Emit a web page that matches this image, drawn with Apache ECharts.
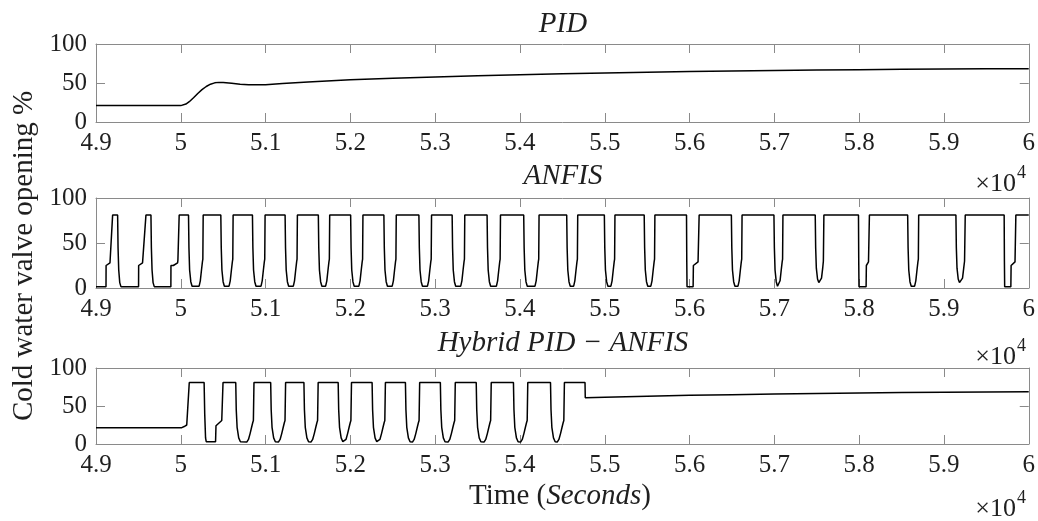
<!DOCTYPE html>
<html>
<head>
<meta charset="utf-8">
<script src="https://cdn.jsdelivr.net/npm/echarts@6/dist/echarts.min.js"></script>
<style>
html, body { margin: 0; padding: 0; background: #fff; }
#chart { width: 1038px; height: 521px; }
</style>
</head>
<body>
<div id="chart"></div>
<script>
// Time axis ticks (seconds) and valve-opening ticks (%)
const timeTicks = [49000, 50000, 51000, 52000, 53000, 54000, 55000, 56000, 57000, 58000, 59000, 60000];
const openingTicks = [0, 50, 100];
const panelTitles = ['PID', 'ANFIS', 'Hybrid PID \u2212 ANFIS'];
const yAxisTitle = 'Cold water valve opening %';
const timeScaleNote = ['\u00d710', '4'];

// PID controller valve opening [time s, opening %]
const pidOpening = [
  [49000, 21], [50000, 21], [50020, 21.3], [50060, 23], [50100, 26], [50150, 31], [50200, 36.5],
  [50250, 41.5], [50300, 45.5], [50350, 48.5], [50400, 50.2], [50450, 50.8], [50500, 50.7],
  [50600, 49.6], [50700, 48.5], [50800, 47.9], [50900, 47.7], [51000, 47.9], [51200, 49.3],
  [51500, 51.3], [52000, 54.3], [52500, 56.2], [53000, 57.8], [53500, 59.3], [54000, 60.6],
  [54500, 61.8], [55000, 62.8], [55500, 63.7], [56000, 64.6], [56500, 65.3], [57000, 66],
  [57500, 66.6], [58000, 67.1], [58500, 67.5], [59000, 67.9], [59500, 68.2], [60000, 68.4]
];

// ANFIS controller valve opening [time s, opening %]
const anfisOpening = [
  [49000, 1.5], [49118, 1.5], [49119, 25], [49165, 28], [49168, 30], [49196, 81], [49255, 81],
  [49260, 45], [49268, 20], [49280, 6], [49294, 1.5],
  [49502, 1.5], [49503, 25], [49549, 28], [49552, 30], [49589, 81], [49648, 81],
  [49653, 45], [49661, 20], [49673, 6], [49687, 1.5],
  [49883, 1.5], [49884, 25], [49900, 27], [49912, 25], [49962, 28], [49966, 31], [49981, 81], [50091, 81],
  [50096, 45], [50104, 20], [50118, 7], [50133, 2], [50216, 2], [50230, 8], [50244, 20], [50255, 29], [50260, 32], [50264, 81],
  [50472, 81], [50477, 45], [50485, 20], [50499, 7], [50514, 2], [50569, 2], [50583, 8], [50597, 20], [50608, 29], [50613, 32], [50617, 81],
  [50845, 81], [50850, 45], [50858, 20], [50872, 7], [50887, 2], [50946, 2], [50960, 8], [50974, 20], [50985, 29], [50990, 32], [50994, 81],
  [51230, 81], [51235, 45], [51243, 20], [51257, 7], [51272, 2], [51327, 2], [51341, 8], [51355, 20], [51366, 29], [51371, 32], [51375, 81],
  [51622, 81], [51627, 45], [51635, 20], [51649, 7], [51664, 2], [51708, 2], [51722, 8], [51736, 20], [51747, 29], [51752, 32], [51756, 81],
  [52003, 81], [52008, 45], [52016, 20], [52030, 7], [52045, 2], [52100, 2], [52114, 8], [52128, 20], [52139, 29], [52144, 32], [52148, 81],
  [52395, 81], [52400, 45], [52408, 20], [52422, 7], [52437, 2], [52493, 2], [52507, 8], [52521, 20], [52532, 29], [52537, 32], [52541, 81],
  [52808, 81], [52813, 45], [52821, 20], [52835, 7], [52850, 2], [52909, 2], [52923, 8], [52937, 20], [52948, 29], [52953, 32], [52957, 81],
  [53200, 81], [53205, 45], [53213, 20], [53227, 7], [53242, 2], [53301, 2], [53315, 8], [53329, 20], [53340, 29], [53345, 32], [53349, 81],
  [53612, 81], [53617, 45], [53625, 20], [53639, 7], [53654, 2], [53722, 2], [53736, 8], [53750, 20], [53761, 29], [53766, 32], [53770, 81],
  [54044, 81], [54049, 45], [54057, 20], [54071, 7], [54086, 2], [54177, 2], [54191, 8], [54205, 20], [54216, 29], [54221, 32], [54225, 81],
  [54551, 81], [54556, 45], [54564, 20], [54578, 7], [54593, 2], [54633, 2], [54647, 8], [54661, 20], [54672, 29], [54677, 32], [54681, 81],
  [54995, 81], [55000, 45], [55008, 20], [55022, 7], [55037, 2], [55072, 2], [55086, 8], [55100, 20], [55111, 29], [55116, 32], [55120, 81],
  [55465, 81], [55470, 45], [55478, 20], [55492, 7], [55507, 2], [55543, 2], [55557, 8], [55571, 20], [55582, 29], [55587, 32], [55591, 81],
  [55964, 81], [55967, 30], [55970, 1.5], [56042, 1.5], [56045, 25], [56100, 29], [56104, 31], [56113, 81],
  [56493, 81], [56498, 45], [56506, 20], [56520, 7], [56535, 2], [56571, 2], [56585, 8], [56599, 20], [56610, 29], [56615, 32], [56619, 81],
  [56995, 81], [57000, 45], [57008, 20], [57022, 7], [57037, 2], [57053, 2], [57067, 8], [57081, 20], [57092, 29], [57097, 32], [57101, 81],
  [57482, 81], [57487, 45], [57495, 22], [57509, 10], [57524, 6], [57533, 5.5], [57542, 6], [57556, 11], [57570, 22], [57578, 30], [57581, 32], [57584, 81],
  [57992, 81], [57995, 30], [57998, 1.5], [58082, 1.5], [58085, 25], [58110, 29], [58114, 31], [58121, 81],
  [58572, 81], [58577, 45], [58585, 20], [58599, 7], [58614, 2], [58654, 2], [58668, 8], [58682, 20], [58693, 29], [58698, 32], [58702, 81],
  [59141, 81], [59146, 45], [59154, 22], [59168, 10], [59183, 6], [59196, 5.5], [59205, 6], [59219, 11], [59233, 22], [59243, 30], [59247, 32], [59251, 81],
  [59710, 81], [59713, 30], [59716, 1.5], [59789, 1.5], [59792, 25], [59838, 29], [59842, 31], [59848, 81], [60000, 81]
];

// Hybrid PID-ANFIS controller valve opening [time s, opening %]
const hybridOpening = [
  [49000, 21.5], [50012, 21.5], [50040, 23], [50070, 25], [50092, 27], [50100, 81], [50275, 81],
  [50282, 40], [50292, 8], [50300, 3], [50410, 3], [50415, 24], [50483, 31], [50498, 81],
  [50648, 81], [50654, 45], [50664, 22], [50683, 8], [50703, 3], [50718, 2.5], [50778, 2.5], [50798, 6], [50818, 14], [50835, 22], [50848, 28], [50856, 31], [50863, 81],
  [51060, 81], [51066, 45], [51076, 22], [51095, 8], [51115, 3], [51130, 2.5], [51151, 2.5], [51171, 6], [51191, 14], [51208, 22], [51221, 28], [51229, 31], [51236, 81],
  [51452, 81], [51458, 45], [51468, 22], [51487, 8], [51507, 3], [51522, 2.5], [51535, 2.5], [51555, 6], [51575, 14], [51592, 22], [51605, 28], [51613, 31], [51620, 81],
  [51856, 81], [51862, 45], [51872, 22], [51891, 8], [51911, 3], [51926, 2.5], [51928, 2.5], [51948, 6], [51968, 14], [51985, 22], [51998, 28], [52006, 31], [52013, 81],
  [52256, 81], [52262, 45], [52272, 22], [52291, 8], [52311, 3], [52326, 2.5], [52328, 2.5], [52348, 6], [52368, 14], [52385, 22], [52398, 28], [52406, 31], [52413, 81],
  [52649, 81], [52655, 45], [52665, 22], [52684, 8], [52704, 3], [52719, 2.5], [52732, 2.5], [52752, 6], [52772, 14], [52789, 22], [52802, 28], [52810, 31], [52817, 81],
  [53061, 81], [53067, 45], [53077, 22], [53096, 8], [53116, 3], [53131, 2.5], [53152, 2.5], [53172, 6], [53192, 14], [53209, 22], [53222, 28], [53230, 31], [53237, 81],
  [53484, 81], [53490, 45], [53500, 22], [53519, 8], [53539, 3], [53554, 2.5], [53576, 2.5], [53596, 6], [53616, 14], [53633, 22], [53646, 28], [53654, 31], [53661, 81],
  [53923, 81], [53929, 45], [53939, 22], [53958, 8], [53978, 3], [53993, 2.5], [54007, 2.5], [54027, 6], [54047, 14], [54064, 22], [54077, 28], [54085, 31], [54092, 81],
  [54360, 81], [54366, 45], [54376, 22], [54395, 8], [54415, 3], [54430, 2.5], [54439, 2.5], [54459, 6], [54479, 14], [54496, 22], [54509, 28], [54517, 31], [54524, 81],
  [54767, 81], [54770, 61], [55000, 61.6], [55500, 62.9], [56000, 64], [56500, 64.9], [57000, 65.7],
  [57500, 66.4], [58000, 67], [58500, 67.6], [59000, 68.1], [59500, 68.5], [60000, 68.9]
];

const series3 = [pidOpening, anfisOpening, hybridOpening];

const FONT = '"Liberation Serif", "Times New Roman", serif';
const FRAME = '#8a8a8a';
const INK = '#1f1f1f';

const panels = [
  { top: 44, height: 78 },
  { top: 198, height: 90 },
  { top: 368, height: 76 }
];

const tMin = timeTicks[0], tMax = timeTicks[timeTicks.length - 1], tStep = timeTicks[1] - timeTicks[0];
const oMin = openingTicks[0], oMax = openingTicks[openingTicks.length - 1], oStep = openingTicks[1] - openingTicks[0];

const grid = [], xAxis = [], yAxis = [], series = [];
panels.forEach((p, i) => {
  grid.push({ left: 96, right: 8, top: p.top, height: p.height, containLabel: false });
  const frameLine = { show: true, onZero: false, lineStyle: { color: FRAME, width: 1 } };
  const tick = { show: true, inside: true, length: 9, lineStyle: { color: FRAME, width: 1 } };
  xAxis.push({
    type: 'value', gridIndex: i, position: 'bottom', min: tMin, max: tMax, interval: tStep,
    axisLine: frameLine, axisTick: tick, splitLine: { show: false },
    axisLabel: {
      show: true, margin: 9, color: INK, fontFamily: FONT, fontSize: 25,
      formatter: v => String(+(v / 1e4).toFixed(2))
    }
  });
  xAxis.push({
    type: 'value', gridIndex: i, position: 'top', min: tMin, max: tMax, interval: tStep,
    axisLine: frameLine, axisTick: tick, splitLine: { show: false }, axisLabel: { show: false }
  });
  yAxis.push({
    type: 'value', gridIndex: i, position: 'left', min: oMin, max: oMax, interval: oStep,
    axisLine: frameLine, axisTick: tick, splitLine: { show: false },
    axisLabel: { show: true, margin: 9, color: INK, fontFamily: FONT, fontSize: 25 }
  });
  yAxis.push({
    type: 'value', gridIndex: i, position: 'right', min: oMin, max: oMax, interval: oStep,
    axisLine: frameLine, axisTick: tick, splitLine: { show: false }, axisLabel: { show: false }
  });
  series.push({
    type: 'line', xAxisIndex: i * 2, yAxisIndex: i * 2, data: series3[i],
    showSymbol: false, symbol: 'none', smooth: false, animation: false,
    lineStyle: { color: '#000', width: 1.5 }, z: 3
  });
});

// Panel titles, scale notes and axis names
const titleY = [24, 176, 343];
const noteY = [184, 357, 509];
const graphic = [];
panels.forEach((p, i) => {
  graphic.push({
    type: 'text', x: 563, y: titleY[i],
    style: { text: panelTitles[i], fontFamily: FONT, fontStyle: 'italic', fontSize: 29, fill: INK, textAlign: 'center', textVerticalAlign: 'middle' }
  });
  graphic.push({
    type: 'text', x: 1016, y: noteY[i],
    style: { text: timeScaleNote[0], fontFamily: FONT, fontSize: 26, fill: INK, textAlign: 'right', textVerticalAlign: 'middle' }
  });
  graphic.push({
    type: 'text', x: 1017, y: noteY[i] - 11,
    style: { text: timeScaleNote[1], fontFamily: FONT, fontSize: 18, fill: INK, textAlign: 'left', textVerticalAlign: 'middle' }
  });
});
graphic.push({
  type: 'text', x: 24, y: 256, rotation: Math.PI / 2,
  style: { text: yAxisTitle, fontFamily: FONT, fontSize: 29, fill: INK, textAlign: 'center', textVerticalAlign: 'middle' }
});
graphic.push({
  type: 'text', x: 560, y: 496,
  style: {
    text: '{n|Time (}{i|Seconds}{n|)}', textAlign: 'center', textVerticalAlign: 'middle',
    rich: {
      n: { fontFamily: FONT, fontSize: 29, fill: INK, color: INK },
      i: { fontFamily: FONT, fontSize: 29, fontStyle: 'italic', fill: INK, color: INK }
    }
  }
});

const chart = echarts.init(document.getElementById('chart'), null, { renderer: 'canvas' });
chart.setOption({
  animation: false,
  backgroundColor: '#ffffff',
  grid, xAxis, yAxis, series, graphic
});
</script>
</body>
</html>
